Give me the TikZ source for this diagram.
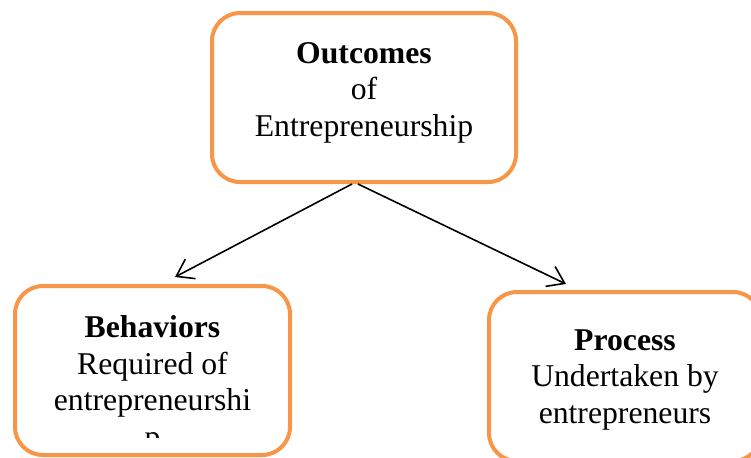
\documentclass[tikz,border=0pt]{standalone}
\usepackage{fontspec}
\setmainfont{Liberation Serif}
\usetikzlibrary{arrows.meta,positioning}
\definecolor{boxorange}{HTML}{F79646}
\tikzset{>={Straight Barb[length=8pt,width=11pt]}}
\tikzset{
  box/.style={draw=boxorange, line width=2pt, rounded corners=14pt, fill=white},
  boxtext/.style={align=center, inner sep=0pt, anchor=base,
    font=\fontsize{15.85}{18.25}\selectfont},
  link/.style={->, line width=0.8pt}
}

\begin{document}
\begin{tikzpicture}[x=0.5pt,y=-0.5pt]
    \useasboundingbox (0,0) rectangle (751,457);
    \clip (0,0) rectangle (751,457);

    % Draw the three boxes
    \node[box, minimum width=152pt, minimum height=84.5pt] (outcome) at (364,97.5) {};
    \node[box, minimum width=137.5pt, minimum height=84.5pt] (behav) at (152.5,370.5) {};
    \node[box, minimum width=136pt, minimum height=84.5pt] (process) at (625,376.5) {};

    % Box texts (base = last line)
    \node[boxtext] (outcometxt) at (364,136) {\textbf{Outcomes}\\of\\Entrepreneurship};
    \begin{scope}
        \clip (15,286) rectangle (290,437); % text runs out of the box
        \node[boxtext] (behavtxt) at (152.5,447) {\textbf{Behaviors}\\Required of\\entrepreneurshi\\p};
    \end{scope}
    \node[boxtext] (processtxt) at (625,423) {\textbf{Process}\\Undertaken by\\entrepreneurs};

    % Arrows down to the two boxes
    \coordinate (behavend) at (175,277);
    \coordinate (processend) at (566,284);
    \draw[link] ([xshift=-6pt]outcome.south) -- (behavend);
    \draw[link] ([xshift=-3pt]outcome.south) -- (processend);
\end{tikzpicture}
\end{document}
